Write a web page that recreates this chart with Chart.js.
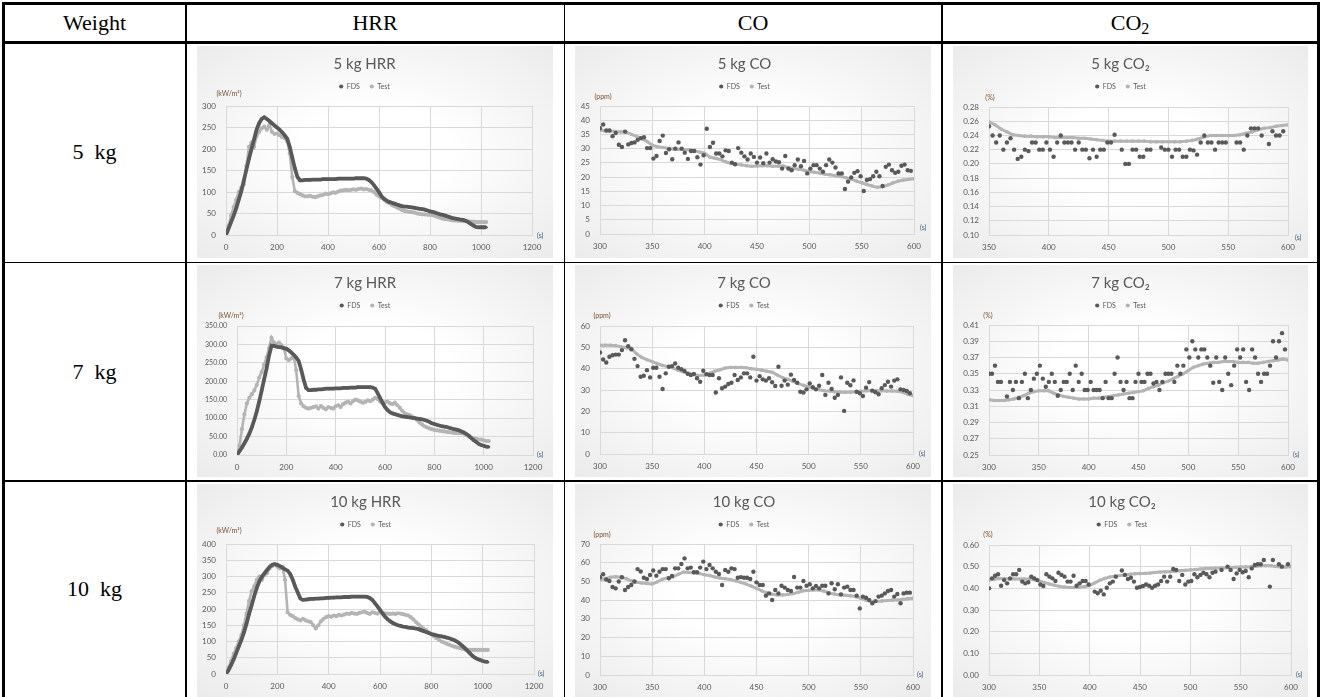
<!DOCTYPE html>
<html>
<head>
<meta charset="utf-8">
<title>HRR / CO / CO2 - FDS vs Test</title>
<script src="https://cdn.jsdelivr.net/npm/chart.js@4.4.1/dist/chart.umd.min.js"></script>
<style>
  html, body { margin: 0; padding: 0; background: #fff; }
  body { position: relative; width: 1320px; height: 697px; overflow: hidden; font-family: "Liberation Serif", "DejaVu Serif", serif; }
  .rule { position: absolute; background: #000; }
  .cell { position: absolute; display: flex; align-items: center; justify-content: center; font-size: 22px; color: #000; white-space: pre; }
  .cell sub { font-size: 16px; vertical-align: -4px; line-height: 0; }
  .plot { position: absolute; background: radial-gradient(ellipse farthest-corner at 50% 50%, #ffffff 0%, #ffffff 30%, #ebebeb 100%); }
  .plot canvas { display: block; }
</style>
</head>
<body>

<!-- table rules -->
<div class="rule" style="left:2px;top:2px;width:1317px;height:3px"></div>
<div class="rule" style="left:2px;top:40.5px;width:1317px;height:3px"></div>
<div class="rule" style="left:2px;top:261.5px;width:1317px;height:1.5px"></div>
<div class="rule" style="left:2px;top:480px;width:1317px;height:1.5px"></div>
<div class="rule" style="left:2px;top:2px;width:2.5px;height:700px"></div>
<div class="rule" style="left:185.3px;top:2px;width:1.5px;height:700px"></div>
<div class="rule" style="left:563.5px;top:2px;width:1.5px;height:700px"></div>
<div class="rule" style="left:941px;top:2px;width:1.5px;height:700px"></div>
<div class="rule" style="left:1317px;top:2px;width:2.5px;height:700px"></div>

<!-- header -->
<div class="cell" style="left:4px;top:5px;width:181px;height:35px"><span>Weight</span></div>
<div class="cell" style="left:187px;top:5px;width:376px;height:35px"><span>HRR</span></div>
<div class="cell" style="left:565px;top:5px;width:376px;height:35px"><span>CO</span></div>
<div class="cell" style="left:943px;top:5px;width:374px;height:35px"><span>CO<sub>2</sub></span></div>

<!-- row labels -->
<div class="cell" style="left:4px;top:43px;width:181px;height:218px"><span>5  kg</span></div>
<div class="cell" style="left:4px;top:263px;width:181px;height:217px"><span>7  kg</span></div>
<div class="cell" style="left:4px;top:481px;width:181px;height:216px"><span>10  kg</span></div>

<!-- chart frames -->
<div class="plot" style="left:197px;top:46px;width:356px;height:212px"><canvas id="hrr5"></canvas></div>
<div class="plot" style="left:575px;top:46px;width:356px;height:212px"><canvas id="co5"></canvas></div>
<div class="plot" style="left:953px;top:46px;width:355px;height:212px"><canvas id="co2_5"></canvas></div>
<div class="plot" style="left:197px;top:265px;width:356px;height:212px"><canvas id="hrr7"></canvas></div>
<div class="plot" style="left:575px;top:265px;width:356px;height:212px"><canvas id="co7"></canvas></div>
<div class="plot" style="left:953px;top:265px;width:355px;height:212px"><canvas id="co2_7"></canvas></div>
<div class="plot" style="left:197px;top:484px;width:356px;height:213px"><canvas id="hrr10"></canvas></div>
<div class="plot" style="left:575px;top:484px;width:356px;height:213px"><canvas id="co10"></canvas></div>
<div class="plot" style="left:953px;top:484px;width:355px;height:213px"><canvas id="co2_10"></canvas></div>

<script>
// ---- time grids: [start, step] in seconds ----
const hrrTimeGrid = [0, 10];
const gasFdsGrid = [300, 3];
const gasTestGrid = [300, 5];
const co2FdsGrid5 = [350, 3];
const co2TestGrid5 = [350, 5];

// ---- axis ranges: [min, max, step] ----
const hrrX = [0, 1200, 200];
const gasX = [300, 600, 50];
const co2X5 = [350, 600, 50];
const hrr5Y = [0, 300, 50];
const hrr7Y = [0, 350, 50];
const hrr10Y = [0, 400, 50];
const co5Y = [0, 45, 5];
const co7Y = [0, 60, 10];
const co10Y = [0, 70, 10];
const co2Y5 = [0.10, 0.28, 0.02];
const co2Y7 = [0.25, 0.41, 0.02];
const co2Y10 = [0, 0.60, 0.10];

// ---- HRR (kW/m²), every 10 s from 0 ----
const hrr5Fds = [0,15,30,45,62,82,102,127,152,177,
  200,222,245,260,270,274,270,265,260,255,
  250,245,239,232,224,205,180,155,135,127,
  127,128,128,128,129,129,129,129,130,130,
  130,130,130,130,131,131,131,131,131,131,
  131,132,132,132,132,131,128,123,116,108,
  100,90,84,80,77,75,73,71,69,67,
  66,66,65,64,63,62,61,60,59,57,
  55,54,52,50,48,47,45,43,41,39,
  38,37,36,35,33,30,26,22,19,18,
  18,18,18];
const hrr5Test = [0,22,45,65,82,100,110,118,160,205,
  215,205,230,240,248,252,245,256,240,235,
  236,232,228,225,218,190,135,102,98,95,
  92,90,90,91,89,88,90,92,93,96,
  95,97,99,98,101,103,104,105,104,105,
  106,105,107,108,106,107,105,104,100,94,
  90,86,82,77,74,70,67,64,61,58,
  56,55,54,53,52,50,49,48,48,47,
  47,46,44,42,40,38,37,36,35,34,
  34,33,33,32,32,32,31,31,30,30,
  30,30,30];
const hrr7Fds = [0,10,20,32,44,58,75,95,118,145,
  175,205,235,270,297,296,294,293,292,290,
  288,284,278,272,265,255,232,205,182,176,
  176,177,177,178,178,179,180,180,180,180,
  181,181,181,182,182,182,183,183,183,184,
  184,184,184,184,184,183,180,168,155,142,
  130,122,116,113,111,109,107,105,104,103,
  102,101,100,99,98,97,95,93,90,86,
  84,82,80,78,77,76,74,72,70,69,
  67,64,61,57,52,46,40,35,30,27,
  25,23,22];
const hrr7Test = [0,25,70,110,140,155,165,175,190,210,
  225,245,265,290,318,305,300,305,298,290,
  262,258,262,268,230,160,140,132,128,126,
  128,130,132,126,133,128,124,130,128,126,
  132,135,130,138,142,145,140,146,150,148,
  145,142,144,148,146,150,155,152,145,140,
  143,145,140,138,142,135,128,120,113,110,
  108,104,100,95,88,83,78,75,72,70,
  68,67,66,65,64,63,62,61,60,60,
  60,59,58,55,50,47,45,44,42,42,
  40,38,38];
const hrr10Fds = [0,12,28,45,65,85,105,128,155,185,
  212,240,265,285,300,310,320,330,336,338,
  336,332,327,322,318,308,290,268,250,232,
  228,229,230,231,231,232,232,233,233,234,
  234,235,235,236,236,236,237,237,237,238,
  238,238,238,238,238,237,234,228,218,208,
  197,186,176,168,162,157,153,150,148,146,
  145,143,142,141,140,138,135,132,129,126,
  123,121,119,117,116,114,112,110,107,104,
  100,94,87,80,72,64,56,50,46,43,
  40,38,37];
const hrr10Test = [0,20,40,62,80,100,120,150,185,225,
  255,270,290,300,290,305,310,325,332,338,
  330,325,330,290,190,182,178,172,168,165,
  170,165,162,160,150,140,150,162,170,175,
  178,176,180,178,182,180,183,186,185,188,
  186,185,188,190,192,188,185,190,188,186,
  190,188,187,186,185,186,185,187,186,184,
  182,180,175,168,160,153,146,140,135,128,
  122,116,110,105,100,97,93,90,87,84,
  82,80,78,76,75,74,74,74,74,74,
  74,74,74];

// ---- CO (ppm) ----
const co5Fds = [37.2,38.5,36.4,36.4,34.4,35.5,31.4,30.6,36,31.5,
  32,32.2,33.1,33.7,34,30.2,30.2,26.5,27.4,32.7,
  34.6,28.5,29.8,26.3,30,32.2,30,28.6,26.4,29.2,
  29.2,27,24.4,27.7,37,30.6,32.1,28.3,28.3,27.3,
  29.4,29.2,25.1,24.5,30.2,28.6,27.3,26.2,28.3,27.1,
  25.1,26.9,24.9,28.3,25.1,26.3,25.5,25.2,23,27.4,
  23,22.4,24.2,26.2,23.8,25.7,21.3,23,24.2,24.2,
  23,21.9,24.2,26.2,25.1,23.4,21.3,21.3,15.8,18.4,
  19.9,21.5,22.1,20.3,15.1,19,19.3,20.3,21.9,20.3,
  16.9,23.6,24.4,22.4,21.5,21.9,24,24.4,22.4,22.2];
const co5Test = [36.4,36.3,36.2,36,35.9,35.8,35,34.3,33.5,32.5,
  31.2,30.7,30.4,30.1,29.9,29.8,29.7,29.6,29.3,28.8,
  28.4,27,26.6,26.2,25.4,24.8,24.5,24.3,24,23.8,
  23.9,24,24,23.8,23.8,23.9,23.4,23,22.8,22.4,
  22,21.7,21.4,21,20.8,20.5,20.2,19.8,19.3,18.6,
  18,17.4,16.9,16.4,16.6,17.2,18,18.6,19,19.2,
  19.4];
const co7Fds = [47.6,44.3,42.9,45.6,46.3,46.6,46.6,48.7,53.3,50.5,
  49.1,44.6,41.2,36.2,36.7,39.3,35.9,40.4,40.4,36.2,
  30.5,37.8,40.9,41.2,42.4,40.4,39.7,38.9,37.6,37,
  37.5,35.5,33.9,39,37.4,37,37,28.8,35.5,30.8,
  31.6,32.8,33.4,37,34.7,35.9,37.8,37.8,35.9,45.6,
  34.4,36.5,35,34.4,35.5,33.6,31.9,40.9,32,34.4,
  32.5,37.2,34.7,33.4,29.2,28.8,30.3,33.1,31.3,30.3,
  32,37,27.7,33.4,30.5,26.4,27.7,35.9,20.2,33.4,
  32.2,34.5,29.2,28.5,27.2,31.1,33.7,29.7,29,28,
  30.8,32.3,33.9,31.6,34.4,35,30.3,30,29.5,28.5];
const co7Test = [51,51,51,50.8,50.3,49.8,49.5,47,45.3,44.2,
  43.3,42.3,41.5,41,40.3,39.2,38.5,37.8,37.2,36.8,
  37,37.8,38.8,39.5,40.3,40.6,40.6,40.6,40.4,40,
  39.7,39.3,38.8,38.3,37,35.8,35,34,33,32.2,
  31.5,30.8,30.1,29.7,29.5,29.2,29,28.9,29,29.2,
  29.4,29.6,29.7,29.7,29.6,29.5,29.5,29.4,29,28,
  27.4];
const co10Fds = [52.2,53.8,51,50.2,47,46.3,50,52.2,45.4,47,
  48.1,50,56.6,55.3,52,51.3,53.4,55.8,53.1,55.2,
  56.6,56.6,51.7,52.9,57,57,59.3,62.3,57,57.4,
  54.9,54.9,57.4,60.6,56.6,58.8,57,55.2,54,48.1,
  56.1,55.2,57,56.6,52,52.3,52,52,51.3,55.2,
  49.5,48.1,48.1,42.4,43.6,40.1,45.4,43.6,47.7,46.7,
  45.4,44.9,52.4,46.7,46.7,50.2,47.7,48.5,46.3,47.6,
  46.3,47.7,47.7,43.6,49,45.8,48.5,43.1,46.7,47.2,
  45.4,45.4,42.4,35.6,41.9,41.3,40.1,38.3,39.5,41.9,
  42.4,43.6,44.9,45.4,41.9,43.3,38.3,43.6,44,44];
const co10Test = [50.8,51.5,52.2,52.5,52.3,51.5,50.3,49.6,49.2,48.9,
  48.6,49.8,51.2,52,52.5,53.8,55,54.8,54.6,54.3,
  53.6,53.2,52.4,51.8,51.4,51,50.3,49.5,48.6,47.5,
  46.3,45,43.8,43.2,42.8,42.8,43,43.5,44.2,45,
  45.2,45.4,45.4,44.8,43.8,43.2,42.8,42.6,42.3,41.9,
  41,40,39.2,39.3,39.5,39.8,40,40.1,40.4,40.8,
  41];

// ---- CO2 (%) ----
const co2Fds5 = [0.253,0.24,0.23,0.24,0.22,0.23,0.236,0.22,0.207,0.21,
  0.22,0.218,0.23,0.23,0.22,0.22,0.23,0.22,0.21,0.23,
  0.24,0.23,0.23,0.23,0.22,0.23,0.22,0.22,0.208,0.22,
  0.21,0.22,0.22,0.23,0.23,0.241,null,0.22,0.20,0.20,
  0.22,0.22,0.21,0.21,0.22,0.22,null,null,0.223,0.22,
  0.22,0.21,0.22,0.22,0.21,0.21,0.22,0.219,0.213,0.23,
  0.24,0.23,0.23,0.22,0.23,0.23,0.23,null,null,0.23,
  0.23,0.22,0.24,0.25,0.25,0.25,0.24,null,0.228,0.246,
  0.24,0.24,0.246];
const co2Test5 = [0.259,0.255,0.249,0.245,0.241,0.240,0.239,0.239,0.238,0.238,
  0.238,0.237,0.237,0.237,0.237,0.236,0.236,0.235,0.234,0.233,
  0.232,0.232,0.232,0.232,0.232,0.232,0.232,0.231,0.231,0.231,
  0.231,0.231,0.231,0.232,0.233,0.235,0.238,0.240,0.240,0.240,
  0.240,0.240,0.241,0.243,0.245,0.248,0.250,0.251,0.253,0.254,
  0.255];
const co2Fds7 = [0.35,0.35,0.36,0.34,0.34,null,0.322,0.34,0.33,0.34,
  0.32,0.34,0.35,0.32,0.33,0.344,0.35,0.36,0.344,0.334,
  0.34,0.35,0.34,0.323,0.33,0.34,0.34,0.35,0.33,0.36,
  0.34,0.35,0.33,0.33,0.34,0.33,0.33,0.33,0.32,0.34,
  0.32,0.32,0.35,0.37,0.34,0.33,0.34,0.32,0.32,0.34,
  0.35,0.34,0.34,0.35,0.35,0.338,0.34,0.33,0.34,0.35,
  0.35,0.35,0.34,0.36,0.35,0.36,0.38,0.37,0.39,0.38,
  0.37,0.38,0.38,0.37,0.36,0.339,0.37,0.34,0.33,0.37,
  0.35,0.336,0.36,0.38,0.37,0.38,0.34,0.33,0.38,0.37,
  0.35,0.34,0.35,0.35,0.36,0.39,0.37,0.39,0.40,0.38];
const co2Test7 = [0.318,0.317,0.317,0.317,0.318,0.319,0.321,0.323,0.326,0.328,
  0.329,0.329,0.329,0.326,0.324,0.322,0.321,0.320,0.319,0.319,
  0.319,0.320,0.320,0.321,0.322,0.323,0.324,0.325,0.326,0.327,
  0.328,0.329,0.332,0.334,0.336,0.339,0.341,0.344,0.347,0.350,
  0.354,0.358,0.360,0.362,0.363,0.364,0.364,0.365,0.365,0.365,
  0.364,0.364,0.364,0.363,0.363,0.364,0.365,0.366,0.367,0.368,
  0.367];
const co2Fds10 = [0.400,0.446,0.458,0.465,0.412,0.438,0.423,0.446,0.465,0.465,
  0.485,0.431,0.423,0.428,0.454,0.446,0.438,0.418,0.411,0.465,
  0.454,0.446,0.434,0.472,0.462,0.454,0.431,0.431,0.458,0.412,
  0.423,0.434,0.434,0.418,null,0.385,0.377,0.389,0.372,0.403,
  0.423,0.431,0.454,null,0.482,0.462,0.443,0.449,0.431,0.403,
  0.406,0.411,0.418,0.412,0.403,0.412,0.418,0.434,0.454,0.431,
  0.454,0.489,0.485,0.434,0.462,0.418,0.431,0.434,0.465,0.451,
  0.462,0.472,0.465,0.451,0.472,0.477,null,0.485,null,0.500,
  0.485,0.443,0.469,0.485,0.474,0.480,0.451,0.492,0.508,0.511,
  0.511,0.531,null,0.408,0.531,null,0.511,0.500,null,0.511];
const co2Test10 = [0.438,0.442,0.445,0.445,0.443,0.443,0.443,0.443,0.443,0.440,
  0.434,0.427,0.420,0.414,0.409,0.406,0.404,0.404,0.405,0.408,
  0.413,0.425,0.437,0.446,0.452,0.456,0.459,0.462,0.465,0.467,
  0.468,0.469,0.471,0.473,0.475,0.476,0.477,0.479,0.481,0.483,
  0.485,0.487,0.489,0.491,0.492,0.493,0.494,0.495,0.496,0.497,
  0.498,0.499,0.500,0.502,0.504,0.505,0.504,0.501,0.499,0.499,
  0.500];

const FDS_COLOR = '#595959';
const TEST_COLOR = '#b4b4b4';
const TEXT_COLOR = '#595959';
const GRID_COLOR = '#d9d9d9';
const TITLE_SIZE = 15;
const LEGEND_BOTTOM = 9 + TITLE_SIZE * 1.2 + 27; // title block + legend block

Chart.defaults.font.family = 'Lato, "Open Sans", sans-serif';
Chart.defaults.color = TEXT_COLOR;

function toPoints(values, grid) {
  return values.map((v, i) => ({ x: grid[0] + i * grid[1], y: v }));
}

// unit captions: y unit above the axis, "(s)" at the end of the x axis
const unitLabels = {
  id: 'unitLabels',
  afterDraw(chart, args, opts) {
    const a = chart.chartArea;
    const ctx = chart.ctx;
    ctx.save();
    ctx.font = '7px Lato, sans-serif';
    ctx.textBaseline = 'middle';
    ctx.textAlign = 'center';
    ctx.fillStyle = '#7a5232';
    ctx.fillText(opts.unit, a.left + opts.u[0], a.top + opts.u[1]);
    ctx.textAlign = 'left';
    ctx.fillStyle = '#3f5a80';
    ctx.fillText('(s)', a.right + opts.s[0], a.bottom + opts.s[1]);
    ctx.restore();
  }
};

// insets: [left, top, right, bottom] of the plot area inside each frame
const charts = [
  { id: 'hrr5', size: [356, 212], title: '5 kg HRR', unit: '(kW/m²)', hrr: true,
    fds: hrr5Fds, test: hrr5Test, fdsGrid: hrrTimeGrid, testGrid: hrrTimeGrid,
    x: hrrX, y: hrr5Y, dec: 0, inset: [29, 60, 21, 23], u: [3, -12], s: [5, 1], yFont: 8 },
  { id: 'co5', size: [356, 212], title: '5 kg CO', unit: '(ppm)', hrr: false,
    fds: co5Fds, test: co5Test, fdsGrid: gasFdsGrid, testGrid: gasTestGrid,
    x: gasX, y: co5Y, dec: 0, inset: [25, 60, 17, 24], u: [3, -9], s: [6, -6], yFont: 8 },
  { id: 'co2_5', size: [355, 212], title: '5 kg CO₂', unit: '(%)', hrr: false,
    fds: co2Fds5, test: co2Test5, fdsGrid: co2FdsGrid5, testGrid: co2TestGrid5,
    x: co2X5, y: co2Y5, dec: 2, inset: [36, 61, 20, 23], u: [1, -9], s: [7, 3], yFont: 8 },
  { id: 'hrr7', size: [356, 212], title: '7 kg HRR', unit: '(kW/m²)', hrr: true,
    fds: hrr7Fds, test: hrr7Test, fdsGrid: hrrTimeGrid, testGrid: hrrTimeGrid,
    x: hrrX, y: hrr7Y, dec: 2, inset: [40, 61, 20, 22], u: [-6, -10], s: [4, 0], yFont: 7 },
  { id: 'co7', size: [356, 212], title: '7 kg CO', unit: '(ppm)', hrr: false,
    fds: co7Fds, test: co7Test, fdsGrid: gasFdsGrid, testGrid: gasTestGrid,
    x: gasX, y: co7Y, dec: 0, inset: [25, 61, 18, 23], u: [2, -10], s: [6, 0], yFont: 8 },
  { id: 'co2_7', size: [355, 212], title: '7 kg CO₂', unit: '(%)', hrr: false,
    fds: co2Fds7, test: co2Test7, fdsGrid: gasFdsGrid, testGrid: gasTestGrid,
    x: gasX, y: co2Y7, dec: 2, inset: [36, 60, 20, 22], u: [-1, -9], s: [5, 0], yFont: 8 },
  { id: 'hrr10', size: [356, 213], title: '10 kg HRR', unit: '(kW/m²)', hrr: true,
    fds: hrr10Fds, test: hrr10Test, fdsGrid: hrrTimeGrid, testGrid: hrrTimeGrid,
    x: hrrX, y: hrr10Y, dec: 0, inset: [29, 60, 19, 23], u: [3, -13], s: [4, 0], yFont: 8 },
  { id: 'co10', size: [356, 213], title: '10 kg CO', unit: '(ppm)', hrr: false,
    fds: co10Fds, test: co10Test, fdsGrid: gasFdsGrid, testGrid: gasTestGrid,
    x: gasX, y: co10Y, dec: 0, inset: [25, 60, 18, 22], u: [2, -9], s: [4, 0], yFont: 8 },
  { id: 'co2_10', size: [355, 213], title: '10 kg CO₂', unit: '(%)', hrr: false,
    fds: co2Fds10, test: co2Test10, fdsGrid: gasFdsGrid, testGrid: gasTestGrid,
    x: gasX, y: co2Y10, dec: 2, inset: [36, 61, 17, 22], u: [-1, -10], s: [5, 0], yFont: 8 }
];

function buildChart(c) {
  const el = document.getElementById(c.id);
  el.width = c.size[0];
  el.height = c.size[1];
  const [L, T, R, B] = c.inset;

  const fdsSet = {
    label: 'FDS',
    data: toPoints(c.fds, c.fdsGrid),
    backgroundColor: FDS_COLOR,
    borderColor: FDS_COLOR,
    pointRadius: c.hrr ? 1.6 : 2.2,
    pointBorderWidth: 0,
    showLine: c.hrr,
    borderWidth: c.hrr ? 3.8 : 0
  };
  const testSet = {
    label: 'Test',
    data: toPoints(c.test, c.testGrid),
    backgroundColor: TEST_COLOR,
    borderColor: TEST_COLOR,
    pointRadius: c.hrr ? 2.1 : 1.8,
    pointBorderWidth: 0,
    showLine: true,
    borderWidth: c.hrr ? 2.6 : 3
  };

  return new Chart(el, {
    type: 'scatter',
    data: { datasets: [fdsSet, testSet] },
    options: {
      responsive: false,
      animation: false,
      events: [],
      devicePixelRatio: 1,
      layout: { padding: { left: 0, top: 0, right: R, bottom: 0 } },
      plugins: {
        title: {
          display: true, text: c.title, color: TEXT_COLOR,
          font: { size: TITLE_SIZE, weight: 'normal' },
          padding: { top: 9, bottom: 0 }
        },
        legend: {
          display: true,
          labels: {
            font: { size: 7 }, color: TEXT_COLOR, usePointStyle: true,
            boxWidth: 4, boxHeight: 3, padding: 10,
            generateLabels: (chart) => chart.data.datasets.map((ds, i) => ({
              text: ds.label, fillStyle: ds.backgroundColor, strokeStyle: ds.backgroundColor,
              lineWidth: 0, pointStyle: 'circle', hidden: false, datasetIndex: i, fontColor: TEXT_COLOR
            }))
          }
        },
        // empty spacer under the legend, sets the top of the plot area
        subtitle: {
          display: true, text: '', weight: 500,
          font: { size: 1, lineHeight: 1 },
          padding: { top: Math.max(T - LEGEND_BOTTOM - 1, 0), bottom: 0 }
        },
        tooltip: { enabled: false },
        unitLabels: { unit: c.unit, u: c.u, s: c.s }
      },
      scales: {
        x: {
          type: 'linear', min: c.x[0], max: c.x[1],
          ticks: {
            stepSize: c.x[2], autoSkip: false, maxRotation: 0, padding: 8, font: { size: 8 }, color: TEXT_COLOR,
            callback: (v) => String(v)
          },
          grid: { color: GRID_COLOR, drawTicks: false },
          border: { color: GRID_COLOR },
          afterFit: (s) => { s.height = B; }
        },
        y: {
          type: 'linear', min: c.y[0], max: c.y[1],
          ticks: {
            stepSize: c.y[2], autoSkip: false, padding: 10, font: { size: c.yFont }, color: TEXT_COLOR,
            callback: (v) => Number(v).toFixed(c.dec)
          },
          grid: { color: GRID_COLOR, drawTicks: false },
          border: { color: GRID_COLOR },
          afterFit: (s) => { s.width = L; }
        }
      }
    },
    plugins: [unitLabels]
  });
}

charts.forEach(buildChart);
</script>
</body>
</html>
